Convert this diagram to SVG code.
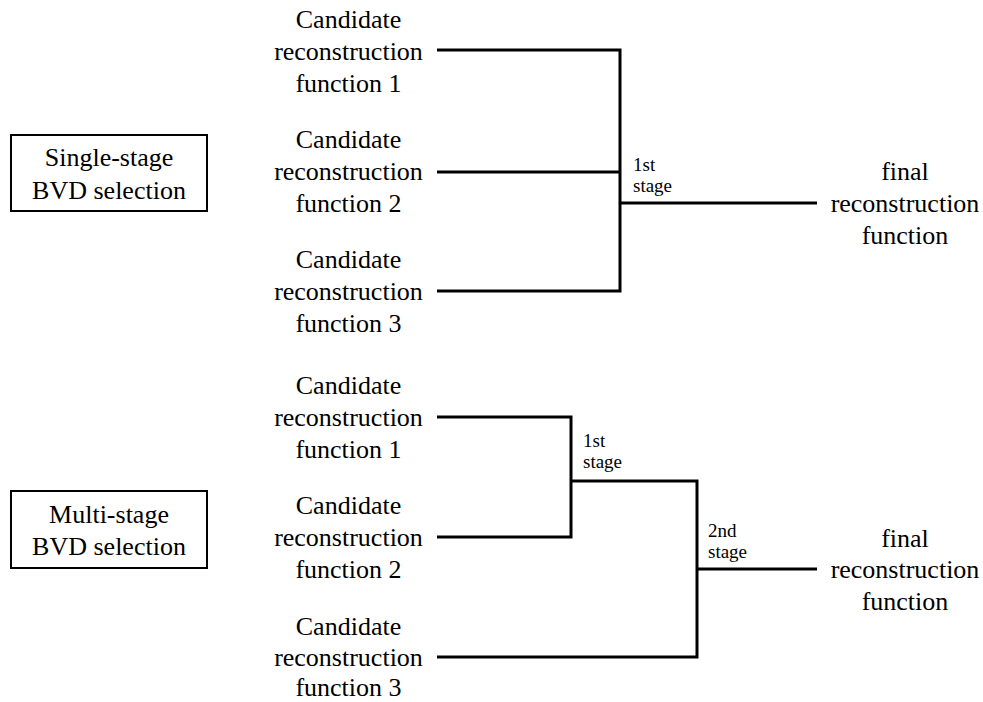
<svg xmlns="http://www.w3.org/2000/svg" width="983" height="702" viewBox="0 0 983 702">
<style>
.t{font-size:26px;text-anchor:middle;fill:#000}
.s{font-size:19px;fill:#000}
.box{fill:#fff;stroke:#000;stroke-width:2}
.ln{fill:none;stroke:#000;stroke-width:3;stroke-linejoin:miter}
</style>
<rect width="983" height="702" fill="#fff"/>
<g font-family="Liberation Serif, Tinos, Times New Roman, DejaVu Serif, serif">
<g id="single-box"><rect class="box" x="11" y="135" width="196" height="76"/>
<text class="t" x="109" y="166">Single-stage</text><text class="t" x="109" y="199">BVD selection</text></g>
<g id="s-cand1"><text class="t" x="348.5" y="28">Candidate</text><text class="t" x="348.5" y="60">reconstruction</text><text class="t" x="348.5" y="92">function 1</text></g>
<g id="s-cand2"><text class="t" x="348.5" y="148">Candidate</text><text class="t" x="348.5" y="180">reconstruction</text><text class="t" x="348.5" y="212">function 2</text></g>
<g id="s-cand3"><text class="t" x="348.5" y="268">Candidate</text><text class="t" x="348.5" y="300">reconstruction</text><text class="t" x="348.5" y="332">function 3</text></g>
<g id="s-final"><text class="t" x="905" y="180">final</text><text class="t" x="905" y="212">reconstruction</text><text class="t" x="905" y="244">function</text></g>
<g id="s-stage1"><text class="s" x="633" y="171">1st</text><text class="s" x="633" y="192">stage</text></g>
<g id="multi-box"><rect class="box" x="11" y="491" width="196" height="77"/>
<text class="t" x="109" y="523">Multi-stage</text><text class="t" x="109" y="555">BVD selection</text></g>
<g id="m-cand1"><text class="t" x="348.5" y="394">Candidate</text><text class="t" x="348.5" y="426">reconstruction</text><text class="t" x="348.5" y="458">function 1</text></g>
<g id="m-cand2"><text class="t" x="348.5" y="514">Candidate</text><text class="t" x="348.5" y="546">reconstruction</text><text class="t" x="348.5" y="578">function 2</text></g>
<g id="m-cand3"><text class="t" x="348.5" y="635">Candidate</text><text class="t" x="348.5" y="666">reconstruction</text><text class="t" x="348.5" y="696">function 3</text></g>
<g id="m-final"><text class="t" x="905" y="547">final</text><text class="t" x="905" y="578">reconstruction</text><text class="t" x="905" y="610">function</text></g>
<g id="m-stage1"><text class="s" x="583" y="447">1st</text><text class="s" x="583" y="468">stage</text></g>
<g id="m-stage2"><text class="s" x="708" y="537">2nd</text><text class="s" x="708" y="558">stage</text></g>
</g>
<g id="connectors">
<path class="ln" d="M437 50 H620 V291 H437"/>
<path class="ln" d="M437 172 H620"/>
<path class="ln" d="M620 203 H817"/>
<path class="ln" d="M437 417 H571 V537 H437"/>
<path class="ln" d="M571 481 H697 V657 H437"/>
<path class="ln" d="M697 569 H817"/>
</g>
</svg>
